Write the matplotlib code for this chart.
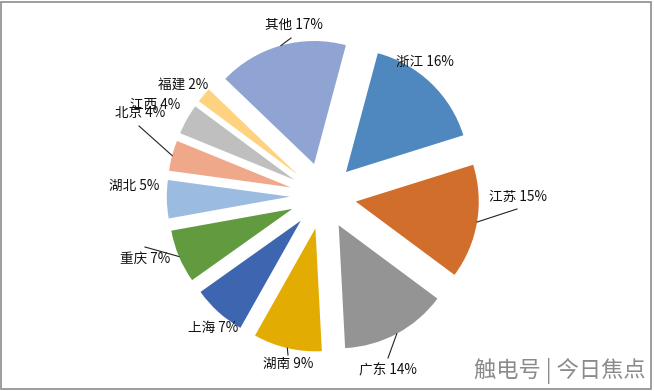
import numpy as np
import matplotlib
matplotlib.use("Agg")
import matplotlib.pyplot as plt
from matplotlib.patches import Rectangle

# 数据
provinces = ["浙江", "江苏", "广东", "湖南", "上海", "重庆", "湖北", "北京", "江西", "福建", "其他"]
shares = [16, 15, 14, 9, 7, 7, 5, 4, 4, 2, 17]
colors = ["#4F88BF", "#D26E2B", "#949494", "#E3AC03", "#3E65AF", "#629A40",
          "#9BBBE1", "#F0A88A", "#BFBFBF", "#FFD27F", "#8FA4D2"]

# 标签位置（像素，画布左上角为原点）以及引线终点
label_px = [(425, 62), (518, 197), (388, 370), (288, 364), (213, 328), (145, 259),
            (134, 186), (140, 113), (155, 105), (183, 85), (294, 25)]
leader_end_px = [None, (517, 209), (388, 358), (288, 355), None, (145, 247),
                 None, (139, 126), None, None, (291, 38)]

W, H = 654, 391
CX, CY = 323, 196   # 饼图中心（像素）
R = 123.0           # 半径（像素）

plt.rcParams["font.family"] = ["Noto Sans CJK SC", "DejaVu Sans"]

fig = plt.figure(figsize=(W / 100, H / 100), dpi=100)
ax = fig.add_axes([0, 0, 1, 1])


def px2data(p):
    return ((p[0] - CX) / R, (CY - p[1]) / R)


wedges, _ = ax.pie(shares, colors=colors, startangle=75, counterclock=False,
                   explode=[0.27] * len(shares), radius=1.0,
                   wedgeprops=dict(linewidth=0), center=(0, 0), frame=True)
ax.set_xlim(-CX / R, (W - CX) / R)
ax.set_ylim(-(H - CY) / R, CY / R)
ax.set_aspect("equal")
ax.axis("off")

for w, name, val, lp, le in zip(wedges, provinces, shares, label_px, leader_end_px):
    tx, ty = px2data(lp)
    ax.text(tx, ty, f"{name} {val}%", fontsize=9.8, ha="center", va="center",
            color="#111111")
    if le is not None:
        mid = np.deg2rad((w.theta1 + w.theta2) / 2)
        cx, cy = w.center
        sx, sy = cx + w.r * np.cos(mid), cy + w.r * np.sin(mid)
        ex, ey = px2data(le)
        ax.plot([sx, ex], [sy, ey], color="#222222", lw=0.8)

# 水印
fig.text(0.987, 0.05, "触电号 | 今日焦点", fontsize=16, ha="right", va="center",
         color="#8a8a8a", fontweight="light")

# 边框
fig.patches.append(Rectangle((0.002, 0.006), 0.994, 0.988, transform=fig.transFigure,
                             fill=False, edgecolor="#8c8c8c", lw=1.2))

fig.savefig("out.png", dpi=100)
